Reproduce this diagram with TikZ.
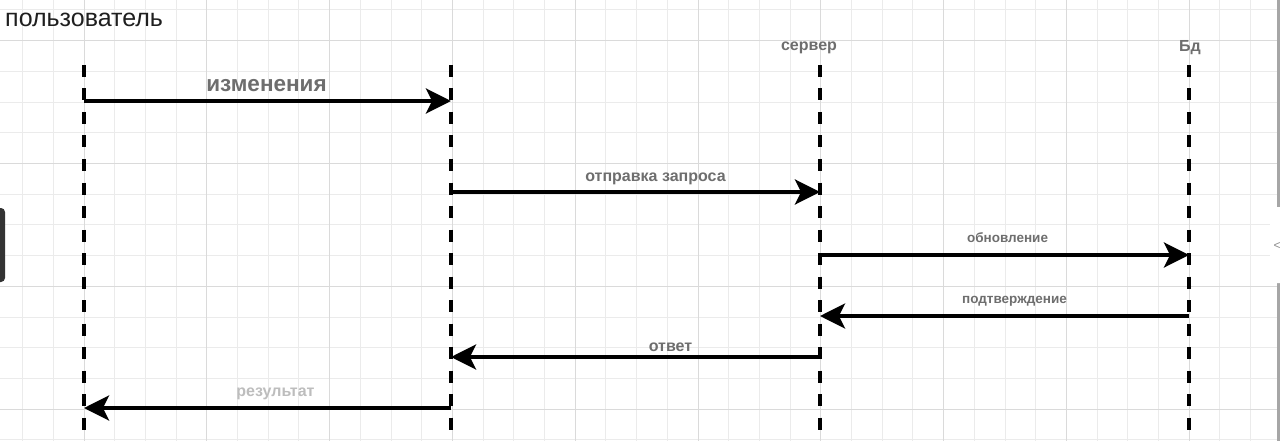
\documentclass[tikz,border=0pt]{standalone}
\usepackage{fontspec}
\setmainfont{Liberation Sans}
\usetikzlibrary{arrows.meta}
\definecolor{gridlo}{HTML}{EBEBEB}
\definecolor{gridhi}{HTML}{DADADA}
\definecolor{lblgray}{HTML}{6E6E6E}
\definecolor{lblpale}{HTML}{BDBDBD}
\tikzset{
  life/.style={line width=3.5pt,dash pattern=on 12pt off 11.5pt},
  msg/.style={line width=3.5pt,-{Stealth[length=25pt,width=25pt,inset=6pt]}},
  lbl/.style={font=\bfseries\fontsize{16}{19}\selectfont,text=lblgray,inner sep=0pt},
  lblsmall/.style={lbl,font=\bfseries\fontsize{13.5}{16}\selectfont},
}
\begin{document}
\begin{tikzpicture}[x=1pt,y=-1pt]
\useasboundingbox (0,0) rectangle (1280,441);
\fill[white] (0,0) rectangle (1280,441);
% grid
\foreach \k in {-2,...,39} \draw[gridlo,line width=1pt] ({84+30.7*\k},0)--({84+30.7*\k},441);
\foreach \k in {0,...,14} \draw[gridlo,line width=1pt] (0,{10+30.7*\k})--(1280,{10+30.7*\k});
\foreach \k in {0,...,9} \draw[gridhi,line width=1pt] ({84+122.8*\k},0)--({84+122.8*\k},441);
\foreach \k in {0,...,3} \draw[gridhi,line width=1pt] (0,{40.7+122.8*\k})--(1280,{40.7+122.8*\k});
% edges of the screen
\fill[black!80,rounded corners=4pt] (-6,208) rectangle (5,282);
\fill[black!35] (1277,0) rectangle (1280,441);
\fill[white,rounded corners=6pt] (1270,207) rectangle (1290,283);
\node[text=black!45,inner sep=0pt,font=\fontsize{12}{12}\selectfont] (back) at (1277,246) {<};

% heads
\node[anchor=west,inner sep=0pt,font=\fontsize{25}{29}\selectfont,text=black!88] (user) at (5,20) {пользователь};
\node[lbl] (srv) at (809,48) {сервер};
\node[lbl] (db) at (1190,48) {Бд};

% lifelines
\coordinate (uT) at (84,65);   \coordinate (uB) at (84,441);
\coordinate (rT) at (451,65);  \coordinate (rB) at (451,441);
\coordinate (sT) at (820,65);  \coordinate (sB) at (820,441);
\coordinate (dT) at (1189,65); \coordinate (dB) at (1189,441);
\draw[life] (uT)--(uB);
\draw[life] (rT)--(rB);
\draw[life] (sT)--(sB);
\draw[life] (dT)--(dB);

% messages
\coordinate (u1) at (84,101);  \coordinate (r1) at (451,101);
\coordinate (r2) at (451,192); \coordinate (s2) at (820,192);
\coordinate (s3) at (820,255); \coordinate (d3) at (1189,255);
\coordinate (d4) at (1189,316);\coordinate (s4) at (820,316);
\coordinate (s5) at (820,357); \coordinate (r5) at (451,357);
\coordinate (r6) at (451,408); \coordinate (u6) at (84,408);
\draw[msg] (u1)--node[lbl,font=\bfseries\fontsize{22.5}{26}\selectfont,xshift=-1pt,yshift=15.5pt]{изменения}(r1);
\draw[msg] (r2)--node[lbl,xshift=20pt,yshift=13.5pt]{отправка запроса}(s2);
\draw[msg] (s3)--node[lblsmall,xshift=3pt,yshift=17pt]{обновление}(d3);
\draw[msg] (d4)--node[lblsmall,xshift=10pt,yshift=14.5pt]{подтверждение}(s4);
\draw[msg] (s5)--node[lbl,xshift=35pt,yshift=10pt]{ответ}(r5);
\draw[msg] (r6)--node[lbl,text=lblpale,xshift=8pt,yshift=14.5pt]{результат}(u6);

\end{tikzpicture}
\end{document}
